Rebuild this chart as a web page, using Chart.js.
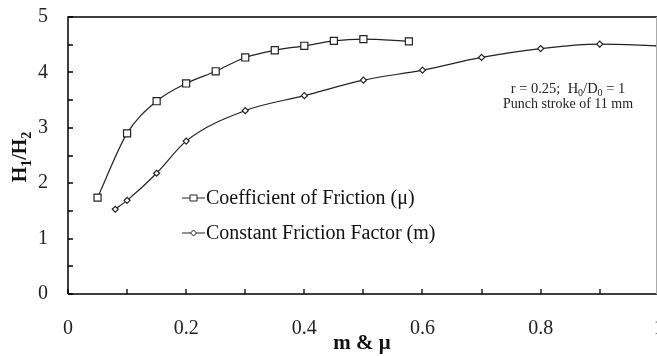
<!DOCTYPE html>
<html>
<head>
<meta charset="utf-8">
<script src="https://cdn.jsdelivr.net/npm/chart.js@4/dist/chart.umd.min.js"></script>
<style>
html,body{margin:0;padding:0;background:#fff;overflow:hidden;}
#wrap{position:relative;width:665px;height:356px;}
</style>
</head>
<body>
<div id="wrap"><canvas id="c" width="665" height="356"></canvas></div>
<script>
// Coefficient of Friction (mu)
const muX = [0.05, 0.10, 0.15, 0.20, 0.25, 0.30, 0.35, 0.40, 0.45, 0.50, 0.577];
const muY = [1.74, 2.90, 3.48, 3.80, 4.02, 4.27, 4.40, 4.48, 4.57, 4.60, 4.56];
// Constant Friction Factor (m)
const mX = [0.08, 0.10, 0.15, 0.20, 0.30, 0.40, 0.50, 0.60, 0.70, 0.80, 0.90, 1.00];
const mY = [1.53, 1.69, 2.18, 2.76, 3.31, 3.58, 3.86, 4.04, 4.27, 4.43, 4.51, 4.48];
const seriesLabels = ['Coefficient of Friction (\u03bc)', 'Constant Friction Factor (m)'];
const xTickStep = 0.2, yTickStep = 1;

const SERIF = '"Liberation Serif", "Times New Roman", serif';

const pts = (xs, ys) => xs.map((x, i) => ({x, y: ys[i]}));

const decor = {
  id: 'decor',
  afterDraw(chart) {
    const ctx = chart.ctx, a = chart.chartArea;
    const xs = chart.scales.x, ys = chart.scales.y;
    ctx.save();
    // frame
    ctx.strokeStyle = '#000';
    ctx.lineWidth = 1.5;
    ctx.beginPath();
    ctx.moveTo(a.left, a.bottom); ctx.lineTo(a.left, a.top); ctx.lineTo(a.right, a.top);
    ctx.moveTo(a.left, a.bottom); ctx.lineTo(a.right, a.bottom);
    ctx.stroke();
    ctx.strokeStyle = '#aaa';
    ctx.lineWidth = 1;
    ctx.beginPath(); ctx.moveTo(656.5, a.top); ctx.lineTo(656.5, a.bottom); ctx.stroke();
    // inward ticks
    ctx.strokeStyle = '#000';
    ctx.lineWidth = 1.3;
    ctx.beginPath();
    for (let v = 0; v <= 5.0001; v += 0.5) {
      const py = Math.round(ys.getPixelForValue(v));
      ctx.moveTo(a.left, py); ctx.lineTo(a.left + 5, py);
    }
    for (let v = 0; v <= 1.0001; v += 0.1) {
      const px = Math.round(xs.getPixelForValue(v));
      ctx.moveTo(px, a.bottom); ctx.lineTo(px, a.bottom - 5);
    }
    ctx.stroke();

    // legend
    ctx.textBaseline = 'middle';
    const lx0 = 182, lx1 = 205, rows = [198, 233];
    chart.data.datasets.forEach((ds, i) => {
      const y = rows[i];
      ctx.strokeStyle = '#222'; ctx.lineWidth = 1;
      ctx.beginPath(); ctx.moveTo(lx0, y); ctx.lineTo(lx1, y); ctx.stroke();
      const cx = (lx0 + lx1) / 2;
      ctx.fillStyle = '#fff'; ctx.strokeStyle = '#222';
      ctx.beginPath();
      if (ds.pointStyle === 'rect') {
        ctx.rect(cx - 3.5, y - 3, 7, 6);
      } else {
        ctx.moveTo(cx, y - 3); ctx.lineTo(cx + 3, y); ctx.lineTo(cx, y + 3); ctx.lineTo(cx - 3, y); ctx.closePath();
      }
      ctx.fill(); ctx.stroke();
      ctx.fillStyle = '#111';
      ctx.textAlign = 'left';
      ctx.font = '20px ' + SERIF;
      ctx.fillText(ds.label, 206, y + 1);
    });

    // annotation
    ctx.fillStyle = '#222';
    ctx.textBaseline = 'alphabetic';
    const drawRuns = (runs, cx, base) => {
      let w = 0;
      runs.forEach(r => { ctx.font = r.size + 'px ' + SERIF; w += ctx.measureText(r.t).width; });
      let x = cx - w / 2;
      runs.forEach(r => {
        ctx.font = r.size + 'px ' + SERIF;
        ctx.textAlign = 'left';
        ctx.fillText(r.t, x, base + (r.dy || 0));
        x += ctx.measureText(r.t).width;
      });
    };
    drawRuns([
      {t: 'r = 0.25;  H', size: 14.5}, {t: '0', size: 10, dy: 3}, {t: '/D', size: 14.5},
      {t: '0', size: 10, dy: 3}, {t: ' = 1', size: 14.5}
    ], 568, 93);
    drawRuns([{t: 'Punch stroke of 11 mm', size: 14}], 568, 108);

    // x title
    ctx.fillStyle = '#111';
    ctx.font = 'bold 21px ' + SERIF;
    ctx.textAlign = 'center';
    ctx.textBaseline = 'alphabetic';
    ctx.fillText('m & \u03bc', 362, 349);

    // y title (rotated) H1/H2
    ctx.translate(26, 157);
    ctx.rotate(-Math.PI / 2);
    const runs = [
      {t: 'H', size: 20}, {t: '1', size: 14, dy: 5},
      {t: '/H', size: 20}, {t: '2', size: 14, dy: 5}
    ];
    let w = 0;
    runs.forEach(r => { ctx.font = 'bold ' + r.size + 'px ' + SERIF; w += ctx.measureText(r.t).width; });
    let x = -w / 2;
    runs.forEach(r => {
      ctx.font = 'bold ' + r.size + 'px ' + SERIF;
      ctx.textAlign = 'left';
      ctx.fillText(r.t, x, r.dy || 0);
      x += ctx.measureText(r.t).width;
    });
    ctx.restore();
  }
};

new Chart(document.getElementById('c'), {
  type: 'scatter',
  data: {
    datasets: [
      {
        label: seriesLabels[0],
        data: pts(muX, muY),
        showLine: true,
        borderColor: '#222',
        borderWidth: 1.2,
        backgroundColor: '#fff',
        pointStyle: 'rect',
        pointRadius: 5,
        pointBorderWidth: 1.2,
        pointBorderColor: '#222',
        pointBackgroundColor: '#fff',
        cubicInterpolationMode: 'monotone'
      },
      {
        label: seriesLabels[1],
        data: pts(mX, mY),
        showLine: true,
        borderColor: '#222',
        borderWidth: 1.2,
        backgroundColor: '#fff',
        pointStyle: 'rectRot',
        pointRadius: 3,
        pointBorderWidth: 1.2,
        pointBorderColor: '#222',
        pointBackgroundColor: '#fff',
        cubicInterpolationMode: 'monotone'
      }
    ]
  },
  options: {
    responsive: false,
    animation: false,
    devicePixelRatio: 1,
    layout: {padding: {left: 0, top: 17, right: 2, bottom: 0}},
    plugins: {legend: {display: false}, tooltip: {enabled: false}},
    scales: {
      x: {
        type: 'linear', min: 0, max: 1,
        grid: {display: false, drawTicks: false},
        border: {display: false},
        ticks: {
          stepSize: xTickStep, color: '#222', padding: 23,
          font: {family: SERIF, size: 20},
          callback: v => String(Number(v.toFixed(1)))
        },
        afterFit: s => { s.height = 62; s.paddingLeft = 0; s.paddingRight = 0; }
      },
      y: {
        type: 'linear', min: 0, max: 5,
        grid: {display: false, drawTicks: false},
        border: {display: false},
        ticks: {
          stepSize: yTickStep, color: '#222', padding: 20,
          font: {family: SERIF, size: 20}
        },
        afterFit: s => { s.width = 68; s.paddingTop = 0; s.paddingBottom = 0; }
      }
    }
  },
  plugins: [decor]
});
</script>
</body>
</html>
